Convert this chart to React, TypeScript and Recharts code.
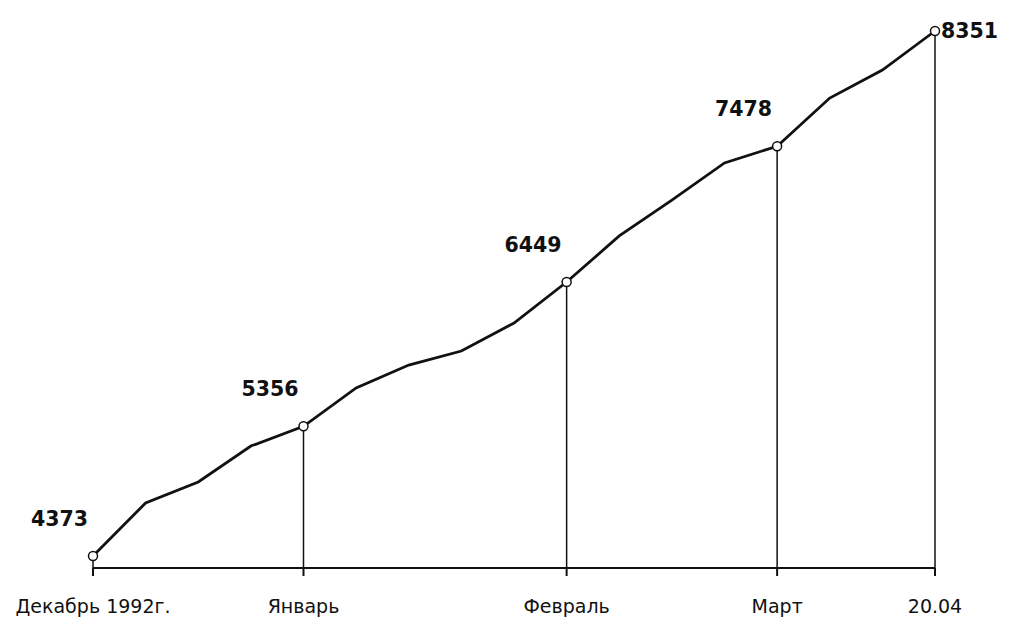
import React from 'react';
import { LineChart, Line, XAxis, YAxis, ReferenceLine, LabelList } from 'recharts';

// weekly readings, Dec 1992 .. 20 Apr 1993
const weeks = [0, 1, 2, 3, 4, 5, 6, 7, 8, 9, 10, 11, 12, 13, 14, 15, 16];
const counts = [4373, 4775, 4934, 5206, 5356, 5646, 5820, 5926, 6138, 6449, 6798, 7070, 7351, 7478, 7843, 8055, 8351];

// marked points with labels under the axis
const markWeeks = [0, 4, 9, 13, 16];
const markLabels = ['Декабрь 1992г.', 'Январь', 'Февраль', 'Март', '20.04'];

const yMin = 4282;
const yMax = 8351;

const data = weeks.map((w, i) => ({ week: w, count: counts[i] }));

const MarkDot = (props: any) => {
  const { cx, cy, payload, index } = props;
  if (!markWeeks.includes(payload.week)) return <g key={`d${index}`} />;
  return <circle key={`d${index}`} cx={cx} cy={cy} r={4.5} fill="#fff" stroke="#111" strokeWidth={1.5} />;
};

const ValueLabel = (props: any) => {
  const { x, y, value, index } = props;
  const week = weeks[index];
  if (!markWeeks.includes(week)) return null;
  const last = week === weeks[weeks.length - 1];
  return (
    <text
      x={last ? x + 6 : x - 5}
      y={last ? y : y - 37}
      textAnchor={last ? 'start' : 'end'}
      dominantBaseline="central"
      fontFamily="DejaVu Sans"
      fontWeight="bold"
      fontSize={20.5}
      fill="#111"
    >
      {value}
    </text>
  );
};

const MonthTick = (props: any) => {
  const { x, y, payload } = props;
  const i = markWeeks.indexOf(payload.value);
  return (
    <text x={x} y={y + 28} textAnchor="middle" dominantBaseline="central" fontFamily="DejaVu Sans" fontSize={19} fill="#111">
      {markLabels[i]}
    </text>
  );
};

export default function App() {
  return (
    <LineChart width={998} height={611} data={data} margin={{ top: 23, right: 71, bottom: 11, left: 85 }}>
      <XAxis
        dataKey="week"
        type="number"
        domain={[0, 16]}
        ticks={markWeeks}
        tick={<MonthTick />}
        tickSize={8}
        height={40}
        axisLine={{ stroke: '#111', strokeWidth: 2 }}
        tickLine={{ stroke: '#111', strokeWidth: 2 }}
        interval={0}
      />
      <YAxis hide type="number" domain={[yMin, yMax]} />
      {markWeeks.map((w) => (
        <ReferenceLine
          key={w}
          segment={[
            { x: w, y: yMin },
            { x: w, y: counts[weeks.indexOf(w)] },
          ]}
          stroke="#111"
          strokeWidth={1.5}
          ifOverflow="visible"
        />
      ))}
      <Line
        type="linear"
        dataKey="count"
        stroke="#111"
        strokeWidth={2.8}
        dot={<MarkDot />}
        activeDot={false}
        isAnimationActive={false}
      >
        <LabelList dataKey="count" content={<ValueLabel />} />
      </Line>
    </LineChart>
  );
}
